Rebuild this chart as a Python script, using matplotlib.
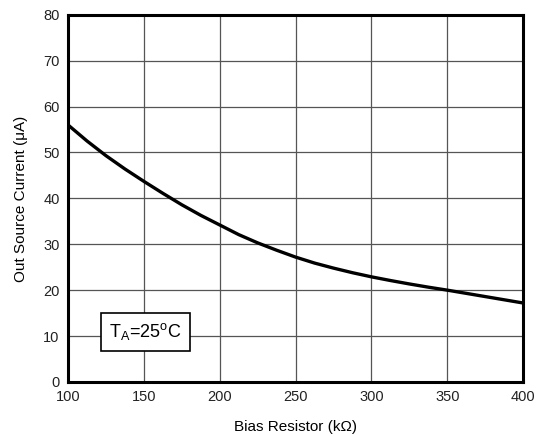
import matplotlib
matplotlib.use("Agg")
from matplotlib import pyplot as plt

plt.rcParams['font.family'] = ['Liberation Sans', 'DejaVu Sans']

# 读图得到的数据
bias_kohm = [100, 112.5, 125, 137.5, 150, 162.5, 175, 187.5, 200, 212.5, 225, 237.5,
             250, 262.5, 275, 287.5, 300, 312.5, 325, 337.5, 350, 362.5, 375, 387.5, 400]
current_ua = [56, 52.5, 49.3, 46.4, 43.7, 41.1, 38.6, 36.3, 34.2, 32.1, 30.3, 28.7,
              27.2, 25.9, 24.8, 23.8, 22.9, 22.1, 21.35, 20.65, 20, 19.3, 18.6, 17.9, 17.2]

x_ticks = [100, 150, 200, 250, 300, 350, 400]
y_ticks = [0, 10, 20, 30, 40, 50, 60, 70, 80]

fig = plt.figure(figsize=(5.49, 4.36), dpi=100)
ax = fig.add_axes([0.124, 0.124, 0.829, 0.842])

ax.plot(bias_kohm, current_ua, color="black", linewidth=2.4, solid_joinstyle="round")

ax.set_xlim(100, 400)
ax.set_ylim(0, 80)
ax.set_xticks(x_ticks)
ax.set_yticks(y_ticks)
ax.grid(True, color="#555555", linewidth=0.9)
ax.tick_params(length=0, labelsize=10.5, colors="#222222", pad=6)
for s in ax.spines.values():
    s.set_linewidth(2.2)
    s.set_color("black")

ax.set_xlabel("Bias Resistor (k\u03a9)", fontsize=11, labelpad=11)
ax.set_ylabel("Out Source Current (\u03bcA)", fontsize=11, labelpad=11)

ax.text(127, 10.9, r"T$_\mathregular{A}$=25$^\mathregular{o}$C", fontsize=13,
        va="center", ha="left",
        bbox=dict(boxstyle="square,pad=0.45", facecolor="white", edgecolor="black", linewidth=1.2))

fig.savefig("out.png", dpi=100)
